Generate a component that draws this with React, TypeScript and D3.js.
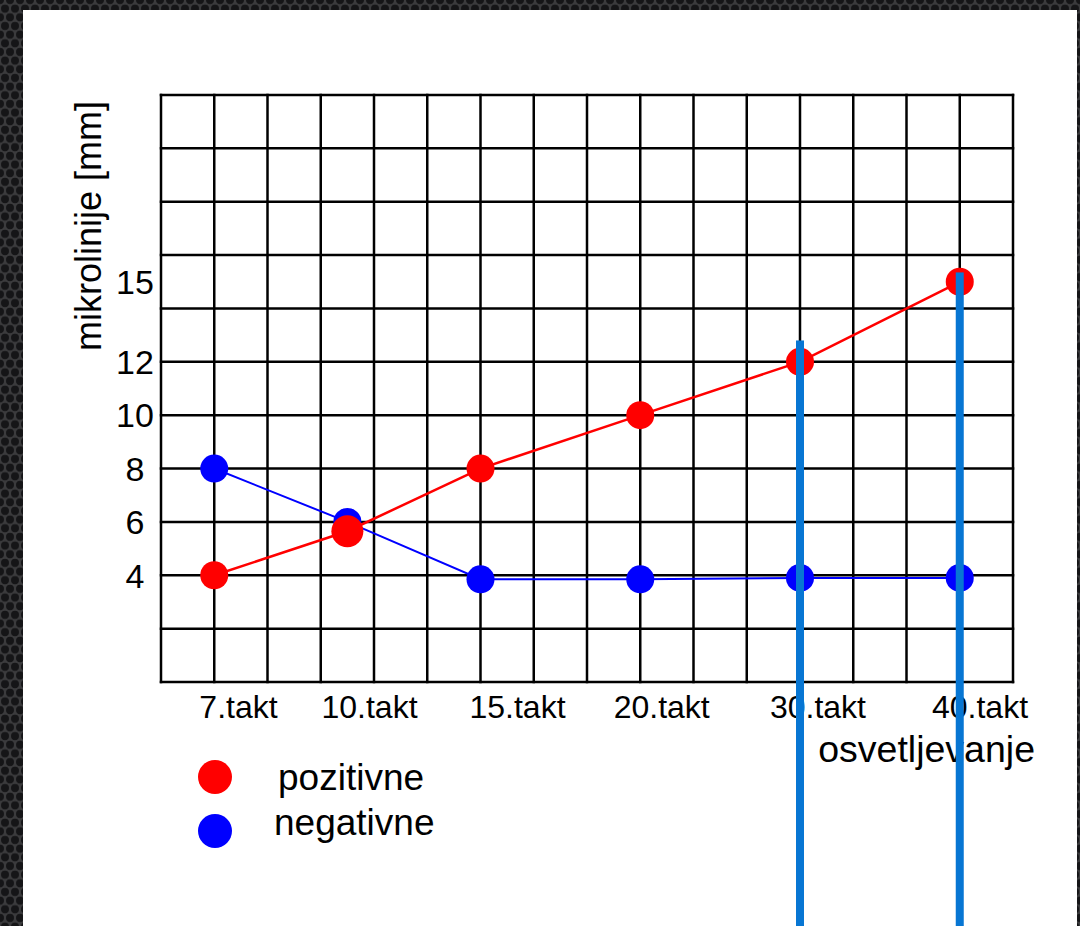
import React from "react";
import * as d3 from "d3";

// ---- data ----
const categories = ["7.takt", "10.takt", "15.takt", "20.takt", "30.takt", "40.takt"];
// position of each category on the grid (in grid columns)
const categoryColumn = [1, 3.5, 6, 9, 12, 15];
const pozitivne = [4, 5.65, 8, 10, 12, 15];
const negativne = [8, 6, 3.85, 3.85, 3.9, 3.9];
const yTicks = [4, 6, 8, 10, 12, 15];
// annotation bars (column, top value)
const barColumns = [12, 15];
const barTops = [12.8, 15.35];

// ---- layout ----
const W = 1080;
const H = 926;
const gridCols = 16;
const yMax = 22;
const labelColumn = [1.455, 3.916, 6.695, 9.403, 12.337, 15.38];

const FONT = "'Liberation Sans', Arial, sans-serif";

export default function App() {
  const x = d3.scaleLinear().domain([0, gridCols]).range([161, 1013]);
  const y = d3.scaleLinear().domain([0, yMax]).range([682, 95]);

  const colLines = d3.range(0, gridCols + 1);
  const rowLines = d3.range(0, yMax + 1, 2);

  const line = d3
    .line<number>()
    .x((_, i) => x(categoryColumn[i]))
    .y((d) => y(d));

  return (
    <svg
      width={W}
      height={H}
      style={{ position: "absolute", left: 0, top: 0, display: "block" }}
      fontFamily={FONT}
    >
      <defs>
        <pattern id="bg" width="10" height="17.32" patternUnits="userSpaceOnUse">
          <rect width="10" height="17.32" fill="#3b3b3d" />
          <circle cx="0" cy="0" r="4" fill="#151517" />
          <circle cx="10" cy="0" r="4" fill="#151517" />
          <circle cx="5" cy="8.66" r="4" fill="#151517" />
          <circle cx="0" cy="17.32" r="4" fill="#151517" />
          <circle cx="10" cy="17.32" r="4" fill="#151517" />
        </pattern>
      </defs>
      <rect x={0} y={0} width={W} height={H} fill="url(#bg)" />
      <rect x={23} y={10} width={1077 - 23} height={H - 10} fill="#ffffff" />

      {/* grid */}
      <g stroke="#000" strokeWidth={2.5}>
        {colLines.map((c) => (
          <line key={"c" + c} x1={x(c)} x2={x(c)} y1={y(0) + 1.25} y2={y(yMax) - 1.25} />
        ))}
        {rowLines.map((r) => (
          <line key={"r" + r} x1={x(0) - 1.25} x2={x(gridCols) + 1.25} y1={y(r)} y2={y(r)} />
        ))}
      </g>

      {/* y ticks */}
      <g fontSize={34} fill="#000" textAnchor="middle">
        {yTicks.map((t) => (
          <text key={t} x={135} y={y(t)} dy="0.36em">
            {t}
          </text>
        ))}
      </g>

      {/* y title */}
      <text
        transform={`translate(101,226) rotate(-90)`}
        textAnchor="middle"
        fontSize={36}
        fill="#000"
      >
        mikrolinije [mm]
      </text>

      {/* x labels */}
      <g fontSize={32} fill="#000" textAnchor="middle">
        {categories.map((c, i) => (
          <text key={c} x={x(labelColumn[i])} y={718}>
            {c}
          </text>
        ))}
      </g>
      <text x={1035} y={762} textAnchor="end" fontSize={37.5} fill="#000">
        osvetljevanje
      </text>

      {/* negativne */}
      <path d={line(negativne) || ""} fill="none" stroke="#0000ff" strokeWidth={2} />
      {negativne.map((v, i) => (
        <circle key={"n" + i} cx={x(categoryColumn[i])} cy={y(v)} r={14} fill="#0000ff" />
      ))}

      {/* pozitivne */}
      <path d={line(pozitivne) || ""} fill="none" stroke="#ff0000" strokeWidth={2.5} />
      {pozitivne.map((v, i) => (
        <circle
          key={"p" + i}
          cx={x(categoryColumn[i])}
          cy={y(v)}
          r={i === 1 ? 16 : 14}
          fill="#ff0000"
        />
      ))}

      {/* legend */}
      <circle cx={215} cy={777} r={17} fill="#ff0000" />
      <text x={278} y={790} fontSize={37} fill="#000">
        pozitivne
      </text>
      <circle cx={215} cy={831} r={17} fill="#0000ff" />
      <text x={274} y={835} fontSize={37} fill="#000">
        negativne
      </text>

      {/* annotation bars */}
      {barColumns.map((c, i) => (
        <rect
          key={"b" + i}
          x={x(c) - 4}
          y={y(barTops[i])}
          width={8}
          height={H - y(barTops[i])}
          fill="#0776d3"
        />
      ))}
    </svg>
  );
}
